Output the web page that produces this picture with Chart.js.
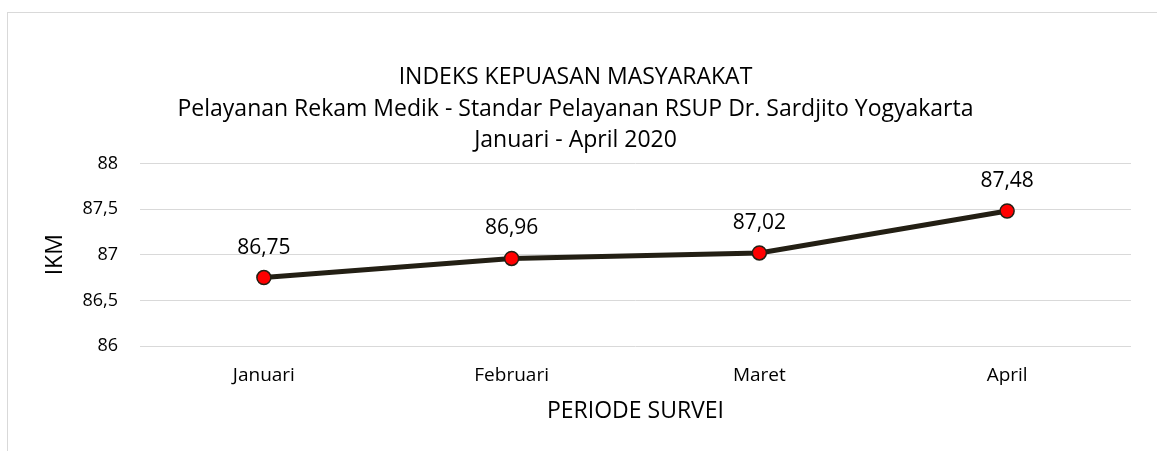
<!DOCTYPE html>
<html>
<head>
<meta charset="utf-8">
<script src="https://cdn.jsdelivr.net/npm/chart.js@4.4.1/dist/chart.umd.min.js"></script>
<style>
  html, body { margin: 0; padding: 0; background: #fff; }
  #frame { position: absolute; left: 7px; top: 12px; width: 1200px; height: 500px; border: 1px solid #d9d9d9; }
  #wrap { position: absolute; left: 0; top: 0; width: 1157px; height: 451px; }
</style>
</head>
<body>
<div id="frame"></div>
<div id="wrap"><canvas id="ikm-chart"></canvas></div>
<script>
const months = ['Januari', 'Februari', 'Maret', 'April'];
const ikmValues = [86.75, 86.96, 87.02, 87.48];
const titleLines = [
    'INDEKS KEPUASAN MASYARAKAT',
    'Pelayanan Rekam Medik - Standar Pelayanan RSUP Dr. Sardjito Yogyakarta',
    'Januari - April 2020'
];
const yMin = 86, yMax = 88, yStep = 0.5;

const FONT = '"Open Sans", sans-serif';

function comma(v, digits) {
    return (digits === undefined ? String(v) : v.toFixed(digits)).replace('.', ',');
}

// draws the value above each point
const valueLabels = {
    id: 'valueLabels',
    afterDatasetsDraw(chart) {
        const ctx = chart.ctx;
        const meta = chart.getDatasetMeta(0);
        ctx.save();
        ctx.font = '21px ' + FONT;
        ctx.fillStyle = '#000';
        ctx.textAlign = 'center';
        ctx.textBaseline = 'middle';
        meta.data.forEach((pt, i) => {
            ctx.fillText(comma(ikmValues[i], 2), pt.x, pt.y - 30);
        });
        ctx.restore();
    }
};

const ctx = document.getElementById('ikm-chart').getContext('2d');
new Chart(ctx, {
    type: 'line',
    data: {
        labels: months,
        datasets: [{
            label: 'IKM',
            data: ikmValues,
            borderColor: '#231f14',
            borderWidth: 5,
            pointRadius: 7,
            pointHoverRadius: 7,
            pointBackgroundColor: '#ff0000',
            pointBorderColor: '#231f14',
            pointBorderWidth: 1.5,
            tension: 0
        }]
    },
    options: {
        responsive: true, maintainAspectRatio: false, animation: false,
        layout: { padding: { left: 20, right: 26, top: 0, bottom: 26 } },
        plugins: {
            legend: { display: false },
            tooltip: { enabled: false },
            title: {
                display: true,
                text: titleLines,
                color: '#000',
                font: { family: FONT, size: 23, weight: 'normal', lineHeight: 1.37 },
                padding: { top: 62, bottom: 7 }
            }
        },
        scales: {
            x: {
                offset: true,
                grid: { display: false, drawTicks: false },
                border: { display: false },
                ticks: { color: '#000', padding: 18, font: { family: FONT, size: 19 } },
                title: {
                    display: true, text: 'PERIODE SURVEI', color: '#000',
                    font: { family: FONT, size: 23 }, padding: { top: 13, bottom: 0 }
                },
                afterFit(scale) { scale.height = 79; }
            },
            y: {
                min: yMin, max: yMax,
                grid: { color: '#d9d9d9', lineWidth: 1, drawTicks: false },
                border: { display: false },
                ticks: {
                    stepSize: yStep, color: '#000', padding: 22,
                    font: { family: FONT, size: 18 },
                    callback: v => comma(v)
                },
                title: {
                    display: true, text: 'IKM', color: '#000',
                    font: { family: FONT, size: 23 }, padding: { top: 22, bottom: 0 }
                },
                afterFit(scale) { scale.width = 120; }
            }
        }
    },
    plugins: [valueLabels]
});
</script>
</body>
</html>
